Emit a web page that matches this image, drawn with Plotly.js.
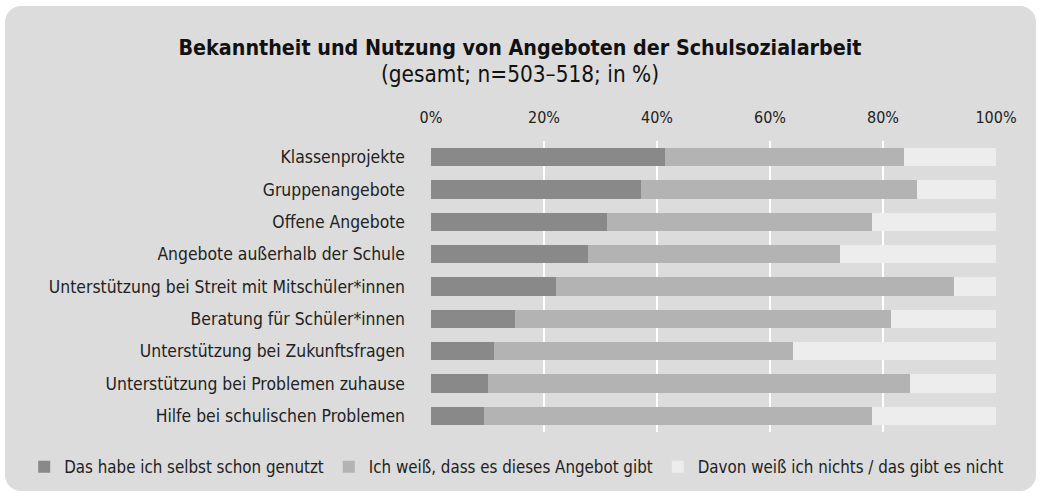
<!DOCTYPE html>
<html>
<head>
<meta charset="utf-8">
<script src="https://cdn.plot.ly/plotly-3.0.1.min.js"></script>
<style>
  html, body { margin:0; padding:0; background:#ffffff; }
  #wrap { position:relative; width:1040px; height:497px; overflow:hidden; }
  #panel { position:absolute; left:5px; top:6px; width:1031px; height:485px; background:#dcdcdc; border-radius:16px; }
  #chart { position:absolute; left:0; top:0; width:1040px; height:497px; }
</style>
</head>
<body>
<div id="wrap"><div id="panel"></div><div id="chart"></div></div>
<script>
const categories = [
  "Klassenprojekte",
  "Gruppenangebote",
  "Offene Angebote",
  "Angebote außerhalb der Schule",
  "Unterstützung bei Streit mit Mitschüler*innen",
  "Beratung für Schüler*innen",
  "Unterstützung bei Zukunftsfragen",
  "Unterstützung bei Problemen zuhause",
  "Hilfe bei schulischen Problemen"
];
const seriesNames = [
  "Das habe ich selbst schon genutzt",
  "Ich weiß, dass es dieses Angebot gibt",
  "Davon weiß ich nichts / das gibt es nicht"
];
const genutzt = [41.5, 37.1, 31.2, 27.8, 22.2, 14.8, 11.1, 10.0, 9.3];
const bekannt = [42.2, 49.0, 46.8, 44.5, 70.3, 66.6, 53.0, 74.7, 68.7];
const unbekannt = [16.3, 13.9, 22.0, 27.7, 7.5, 18.6, 35.9, 15.3, 22.0];
const tickVals = [0, 20, 40, 60, 80, 100];
const tickText = ["0%", "20%", "40%", "60%", "80%", "100%"];

const colors = ["#898989", "#b3b3b3", "#ededed"];
const values = [genutzt, bekannt, unbekannt];
const FONT = "'DejaVu Sans Condensed', 'Liberation Sans Narrow', sans-serif";

const traces = values.map((v, i) => ({
  type: "bar",
  orientation: "h",
  name: seriesNames[i],
  x: v,
  y: categories,
  marker: { color: colors[i], line: { width: 0 } },
  hoverinfo: "x+y+name"
}));

const layout = {
  width: 1040,
  height: 497,
  barmode: "stack",
  bargap: 0.44,
  paper_bgcolor: "rgba(0,0,0,0)",
  plot_bgcolor: "rgba(0,0,0,0)",
  font: { family: FONT, size: 17, color: "#222222" },
  margin: { l: 431, r: 44, t: 141, b: 65 },
  title: {
    text: "<b>Bekanntheit und Nutzung von Angeboten der Schulsozialarbeit</b><br><span style='font-size:22.4px'>(gesamt; n=503–518; in %)</span>",
    font: { family: FONT, size: 21.3, color: "#111111" },
    x: 0.5, xref: "container", xanchor: "center",
    y: 0.89, yref: "container", yanchor: "top"
  },
  xaxis: {
    side: "top",
    range: [0, 100],
    tickvals: tickVals,
    ticktext: tickText,
    showgrid: true,
    gridcolor: "#ffffff",
    gridwidth: 2,
    zeroline: false,
    showline: false,
    ticks: "",
    ticklabelstandoff: 14,
    fixedrange: true,
    tickfont: { family: FONT, size: 16, color: "#222222" }
  },
  yaxis: {
    autorange: "reversed",
    showgrid: false,
    zeroline: false,
    ticks: "",
    ticklabelstandoff: 25,
    tickfont: { family: FONT, size: 17.4, color: "#222222" }
  },
  legend: {
    orientation: "h",
    xref: "paper", x: -0.72, xanchor: "left",
    yref: "paper", y: -0.12, yanchor: "middle",
    font: { family: FONT, size: 16.8, color: "#222222" },
    itemwidth: 30,
    bgcolor: "rgba(0,0,0,0)",
    traceorder: "normal"
  },
  showlegend: true
};

Plotly.newPlot("chart", traces, layout, { displayModeBar: false, staticPlot: true });
</script>
</body>
</html>
